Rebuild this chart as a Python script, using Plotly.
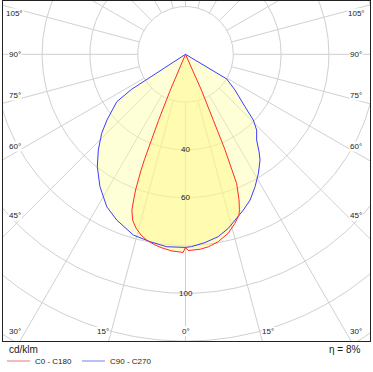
import numpy as np
import plotly.graph_objects as go

# ---------------- data (gamma in degrees, intensity in cd/klm) ----------------
c0_gamma = [0, 0.8, 4.3, 6.8, 9.9, 13.4, 16.3, 18.4, 19.1, 20.2, 21.6, 22.0, 22.2, 22.5, 22.9, 24.0, 25]
c0_value = [80.8, 82.1, 81.8, 81.1, 79.6, 77.0, 73.7, 70.9, 68.9, 64.9, 58.1, 51.0, 48.0, 43.0, 30.0, 16.4, 0]

c180_gamma = [0, 0.7, 3.9, 6.9, 9.1, 11.8, 13.8, 15.9, 17.7, 19.0, 19.6, 20.2, 20.6, 21.0, 21.3, 21.7, 22.2, 23.0, 25]
c180_value = [80.8, 82.9, 82.5, 81.6, 80.8, 79.4, 77.9, 75.6, 72.8, 68.9, 64.7, 60.5, 56.2, 51.9, 47.4, 43.0, 30.0, 16.3, 0]

c90_gamma = [0, 1.8, 5.9, 10.2, 13.8, 18.0, 20.4, 23.9, 27.7, 31.5, 35.2, 37.0, 39.7, 43.2, 45.9, 48.6, 54.2, 59.1, 60]
c90_value = [80.8, 80.5, 79.2, 77.5, 75.0, 71.5, 69.5, 66.7, 62.6, 58.4, 54.1, 51.2, 46.6, 43.5, 39.5, 33.2, 25.5, 20.1, 0]

c270_gamma = [0, 5.6, 10.7, 16.1, 22.5, 27.3, 32.9, 38.1, 42.3, 46.7, 50.1, 55.4, 57.0, 60]
c270_value = [80.8, 80.9, 79.8, 78.7, 75.1, 71.8, 65.9, 59.8, 54.2, 48.2, 42.8, 34.9, 27.0, 0]

radial_ticks = [20, 40, 60, 80, 100, 120, 140]
radial_labels = [40, 60, 100]
angle_ticks = list(range(0, 360, 15))
angle_labels = [0, 15, 30, 45, 60, 75, 90, 105]
unit_text = "cd/klm"
eff_text = "η = 8%"
series_names = ["C0 - C180", "C90 - C270"]

RED = "#ff2a2a"
BLUE = "#3c3cff"
GRID = "#d0d0d0"
TXT = "#1a1a1a"
FONT = "Liberation Sans, Arial, sans-serif"

# axis ranges (equal scale, centre of diagram near top)
k = 1 / 2.39
XR = [-(185.5 - 3) * k, (370 - 185.5) * k]
YR = [-(341 - 54.3) * k, (54.3 - 1) * k]


def to_xy(gam, val, side):
    g = np.radians(np.asarray(gam, float))
    v = np.asarray(val, float)
    return side * v * np.sin(g), -v * np.cos(g)


def closed_curve(g_right, v_right, g_left, v_left):
    xr, yr = to_xy(g_right, v_right, 1)
    xl, yl = to_xy(g_left, v_left, -1)
    x = np.concatenate([xr, xl[::-1]])
    y = np.concatenate([yr, yl[::-1]])
    return x, y


fig = go.Figure()

# ---- grid circles
t = np.linspace(0, 2 * np.pi, 361)
for r in radial_ticks:
    fig.add_trace(go.Scatter(x=r * np.cos(t), y=r * np.sin(t), mode="lines",
                             line=dict(color=GRID, width=1), hoverinfo="skip", showlegend=False))
# ---- radial lines
for a in angle_ticks:
    ar = np.radians(a)
    r0, r1 = radial_ticks[0], 200
    fig.add_trace(go.Scatter(x=[r0 * np.sin(ar), r1 * np.sin(ar)], y=[-r0 * np.cos(ar), -r1 * np.cos(ar)],
                             mode="lines", line=dict(color=GRID, width=1), hoverinfo="skip", showlegend=False))

# ---- fills
bx, by = closed_curve(c90_gamma, c90_value, c270_gamma, c270_value)
rx, ry = closed_curve(c0_gamma, c0_value, c180_gamma, c180_value)
fig.add_trace(go.Scatter(x=bx, y=by, mode="none", fill="toself", fillcolor="rgba(255,255,160,0.42)",
                         hoverinfo="skip", showlegend=False))
fig.add_trace(go.Scatter(x=rx, y=ry, mode="none", fill="toself", fillcolor="rgba(255,245,120,0.40)",
                         hoverinfo="skip", showlegend=False))
# ---- outlines
fig.add_trace(go.Scatter(x=bx, y=by, mode="lines", line=dict(color=BLUE, width=1),
                         name=series_names[1], showlegend=False))
fig.add_trace(go.Scatter(x=rx, y=ry, mode="lines", line=dict(color=RED, width=1),
                         name=series_names[0], showlegend=False))

annotations = []
# ---- radial value labels along 0°
for r in radial_labels:
    annotations.append(dict(x=0, y=-r, xref="x", yref="y", text=str(r), showarrow=False,
                            font=dict(family=FONT, size=8, color=TXT)))

# ---- angle labels along the frame
side_x = 71.5
bot_y = 115.8
for a in angle_labels:
    b = a + 1.6 * np.sign(90 - a) * (a > 0)
    br = np.radians(b)
    s, c = np.sin(br), np.cos(br)
    for side in (-1, 1):
        if a == 0 and side == 1:
            continue
        if c > 0 and s * bot_y / c <= side_x + 0.5:
            x, y = side * bot_y * s / c, -bot_y
        else:
            x, y = side * side_x, -side_x * c / s
        annotations.append(dict(x=x, y=y, xref="x", yref="y", text=f"{a}°", showarrow=False,
                                bgcolor="white", borderpad=0,
                                font=dict(family=FONT, size=8, color=TXT)))

# ---- texts under frame (paper coords)
def px(xp):
    return (xp - 3) / 367.0


def py(yp):
    return (341 - yp) / 340.0


annotations.append(dict(x=px(7), y=py(350), xref="paper", yref="paper", text=unit_text, showarrow=False,
                        xanchor="left", yanchor="middle", font=dict(family=FONT, size=10, color=TXT)))
annotations.append(dict(x=px(363), y=py(350), xref="paper", yref="paper", text=eff_text, showarrow=False,
                        xanchor="right", yanchor="middle", font=dict(family=FONT, size=10, color=TXT)))
annotations.append(dict(x=px(33), y=py(361), xref="paper", yref="paper", text=series_names[0], showarrow=False,
                        xanchor="left", yanchor="middle", font=dict(family=FONT, size=8, color=TXT)))
annotations.append(dict(x=px(108), y=py(361), xref="paper", yref="paper", text=series_names[1], showarrow=False,
                        xanchor="left", yanchor="middle", font=dict(family=FONT, size=8, color=TXT)))

shapes = [
    dict(type="line", xref="paper", yref="paper", x0=px(7), x1=px(30), y0=py(361), y1=py(361),
         line=dict(color="#f4a3a3", width=1.5)),
    dict(type="line", xref="paper", yref="paper", x0=px(82), x1=px(105), y0=py(361), y1=py(361),
         line=dict(color="#a8a8f4", width=1.5)),
]

fig.update_layout(
    width=373, height=372,
    margin=dict(l=3, r=3, t=1, b=31),
    paper_bgcolor="white", plot_bgcolor="white",
    xaxis=dict(range=XR, showgrid=False, zeroline=False, showticklabels=False, ticks="",
               showline=True, mirror=True, linecolor="#222", linewidth=1, fixedrange=True),
    yaxis=dict(range=YR, showgrid=False, zeroline=False, showticklabels=False, ticks="",
               showline=True, mirror=True, linecolor="#222", linewidth=1, fixedrange=True),
    annotations=annotations,
    shapes=shapes,
    showlegend=False,
)

fig.write_html("out.html", config={"displayModeBar": False},
               post_script="document.body.style.margin='0';document.body.style.overflow='hidden';")
